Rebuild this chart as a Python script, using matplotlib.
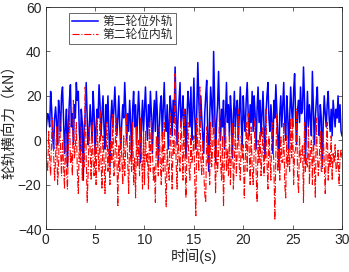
import numpy as np
import matplotlib
matplotlib.use('Agg')
import matplotlib.pyplot as plt

plt.rcParams['font.family'] = ['Liberation Sans', 'Noto Sans CJK SC', 'DejaVu Sans']
plt.rcParams['text.color'] = '#262626'
plt.rcParams['axes.labelcolor'] = '#262626'
plt.rcParams['xtick.color'] = '#262626'
plt.rcParams['ytick.color'] = '#262626'

# time axis, one sample every 0.1 s
t = np.arange(0, 30.001, 0.1)

# 第二轮位外轨 (outer rail)
outer = [3, 8, 12, 10, 6, 22, 14, 2, -4, 10,
         15, 8, -2, 18, 12, 4, 20, 24, 10, -6,
         5, 14, -12, 8, 18, 25, 6, 12, -2, 16,
         10, 26, 18, 22, 4, -4, 14, 8, -18, 6,
         12, 26, 10, -2, 4, 16, 8, 0, 22, 12,
         -6, 6, 14, 10, 25, 16, 2, 12, 20, 6,
         -4, 16, 8, 20, 4, -12, 10, 18, 6, 14,
         24, 12, 2, 10, 20, 6, -4, 8, 16, 10,
         26, 14, 0, 12, 4, 18, 8, -8, 14, 22,
         6, 16, -2, 10, 22, 12, -10, 8, 18, 4,
         14, 24, 10, 0, 16, 6, 22, 12, -6, 10,
         18, 4, 22, 12, -10, 6, 16, 20, 2, 14,
         26, 10, 4, 16, -4, 8, 20, 14, 2, 18,
         8, 33, 14, -2, 10, 18, 26, 6, 12, 20,
         2, 14, -8, 10, 22, 16, 6, 24, 0, 12,
         28, 10, -4, 14, 35, 18, 6, 20, 10, 2,
         -6, 12, 20, 27, 4, -14, 10, 24, 16, 6,
         40, 18, -10, 8, 16, 31, 12, 0, 14, 6,
         18, -4, 10, 26, 8, 16, 2, 20, 12, -8,
         10, 22, 6, 14, 18, 0, 12, 24, 8, -2,
         20, 10, 4, 18, 26, 12, 2, 16, 8, 22,
         4, 20, 12, -4, 14, 24, 8, 18, 2, 12,
         22, 6, -8, 12, 20, 26, 10, 4, 16, 8,
         -6, 18, 10, 25, 14, 2, -12, 12, 20, 6,
         16, 26, 8, 0, 20, 12, -4, 10, 24, 14,
         6, 22, 30, 10, -2, 14, 18, 8, 24, 12,
         14, 33, 18, -10, 8, 22, 6, 16, 10, 2,
         31, 14, -2, 10, 18, 24, 8, 2, 16, 10,
         -12, 8, 20, 12, 6, 16, 22, 10, 4, 14,
         2, 18, 12, 6, 14, 10, 20, 8, 16, 4,
         2]

# 第二轮位内轨 (inner rail)
inner = [-5, -10, -14, 4, -8, -16, 2, 10, -6, -18,
         -8, 6, -20, -12, 12, -4, -16, 0, -10, -22,
         4, -14, -22, -2, 14, -10, -6, -16, 18, -8,
         -4, 8, -14, -24, 0, -10, 6, -18, -6, -12,
         24, -8, -28, -14, 6, -4, -18, 8, -10, -16,
         -2, -20, 10, -6, -14, 14, -10, -22, 2, -8,
         -24, -6, 8, -14, -4, -20, 0, -10, 12, -16,
         -12, 10, -6, -30, -2, -14, 6, -8, -20, 2,
         -16, -4, 12, -10, -24, 2, -8, -14, 8, -20,
         -8, -26, 6, -12, 0, -16, 10, -6, -22, 4,
         -20, 4, -10, -6, -22, 8, -14, 10, -4, -18,
         -12, -28, 2, -8, -16, 6, -10, -20, 4, -14,
         8, -16, -30, -4, -12, -18, 12, -6, -22, 0,
         -6, 30, -10, -22, 4, -8, -14, 10, -2, -18,
         14, -8, -26, -4, 8, -12, -18, 2, -10, -6,
         2, -20, -34, 10, -6, -14, 24, -8, -16, 0,
         -14, -24, -28, 6, -10, -2, -20, 8, -12, -4,
         12, -8, -24, 0, -14, -6, 14, -10, -18, 2,
         -30, -8, 10, -14, -4, -16, 4, -20, -6, 8,
         -22, -10, 6, -16, -4, 14, -12, -18, 2, -8,
         -2, -26, -10, 8, -14, 12, -4, -20, 6, -12,
         -20, -6, 10, -14, -28, 0, -10, 4, -16, -6,
         6, -16, -4, 14, -10, -22, 2, -8, -18, 8,
         4, -12, -36, -6, 12, -14, -4, -18, 2, -10,
         -10, 8, -20, -26, 2, -12, -4, -14, 10, -8,
         10, -20, -6, -4, 14, -16, -24, 2, -10, -6,
         -2, -28, 8, -14, -8, -12, 6, -20, -4, 0,
         -20, 2, -12, -26, 10, -6, -16, -8, 4, -14,
         -14, 4, -10, -24, -4, 8, -18, -6, -12, 2,
         -18, -6, -10, -2, -14, -12, -4, -20, -8, -4,
         -8]

fig = plt.figure(figsize=(3.49, 2.72), dpi=100)
ax = fig.add_axes([0.131, 0.158, 0.849, 0.816])

ax.plot(t, outer, color='#0000ff', lw=1.1, label='第二轮位外轨')
ax.plot(t, inner, color='#ff0000', lw=0.8, ls='-.', label='第二轮位内轨')

ax.set_xlim(0, 30)
ax.set_ylim(-40, 60)
ax.set_xticks(range(0, 31, 5))
ax.set_yticks(range(-40, 61, 20))
ax.tick_params(direction='in', top=True, right=True, labelsize=10, length=3, width=0.5, pad=3)
for s in ax.spines.values():
    s.set_linewidth(0.6)
    s.set_color('#262626')

ax.set_xlabel('时间(s)', fontsize=10.5, labelpad=1)
ax.set_ylabel('轮轨横向力（kN）', fontsize=10.5, labelpad=1,
              family=['Noto Sans CJK SC', 'DejaVu Sans'])

leg = ax.legend(loc='upper left', bbox_to_anchor=(0.07, 0.985), fontsize=8.5,
                frameon=True, fancybox=False, handlelength=2.2, borderpad=0.25,
                labelspacing=0.1, handletextpad=0.4, borderaxespad=0.2)
leg.get_frame().set_edgecolor('#262626')
leg.get_frame().set_linewidth(0.6)

fig.savefig('out.png', dpi=100)
